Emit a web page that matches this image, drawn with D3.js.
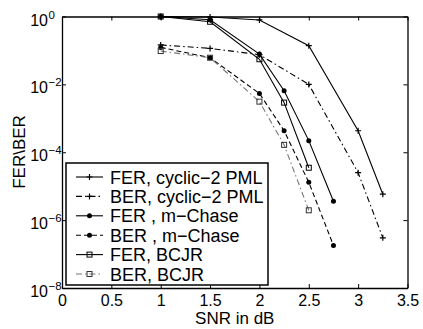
<!DOCTYPE html>
<html><head><meta charset="utf-8">
<script src="https://cdn.jsdelivr.net/npm/d3@7"></script>
<style>
body{margin:0;background:#fff;}
svg{display:block;font-family:"Liberation Sans",Arial,sans-serif;}
</style></head><body>
<svg id="c" width="423" height="329"></svg>
<script>
const ferCyclicX = [1, 1.5, 2, 2.5, 3, 3.25];
const ferCyclic  = [1.0, 0.97, 0.79, 0.138, 4.3e-4, 5.8e-6];
const berCyclicX = [1, 1.5, 2, 2.5, 3, 3.25];
const berCyclic  = [0.145, 0.115, 0.075, 0.0100, 2.5e-5, 3.0e-7];
const ferChaseX = [1, 1.5, 2, 2.25, 2.5, 2.75];
const ferChase  = [1.0, 0.80, 0.078, 6.5e-3, 2.2e-4, 3.6e-6];
const berChaseX = [1, 1.5, 2, 2.25, 2.5, 2.75];
const berChase  = [0.123, 0.061, 5.4e-3, 4.3e-4, 1.3e-5, 1.8e-7];
const ferBcjrX = [1, 1.5, 2, 2.25, 2.5];
const ferBcjr  = [1.0, 0.70, 0.055, 2.9e-3, 3.5e-5];
const berBcjrX = [1, 1.5, 2, 2.25, 2.5];
const berBcjr  = [0.096, 0.061, 3.1e-3, 1.65e-4, 1.95e-6];
const xTicks = [0, 0.5, 1, 1.5, 2, 2.5, 3, 3.5];
const yTickExps = [0, -2, -4, -6, -8];
const legendLabels = ["FER, cyclic\u22122 PML","BER, cyclic\u22122 PML","FER , m\u2212Chase","BER , m\u2212Chase","FER, BCJR","BER, BCJR"];

const series = [
  {x: ferCyclicX, y: ferCyclic, dash: null, color: "#000", mk: "plus"},
  {x: berCyclicX, y: berCyclic, dash: "6,3,1.5,3", color: "#000", mk: "plus"},
  {x: ferChaseX, y: ferChase, dash: null, color: "#000", mk: "dot"},
  {x: berChaseX, y: berChase, dash: "5,3", color: "#000", mk: "dot"},
  {x: ferBcjrX, y: ferBcjr, dash: null, color: "#000", mk: "sq"},
  {x: berBcjrX, y: berBcjr, dash: "6,3,1.5,3", color: "#777", mk: "sq"}
];

const L = 62, T = 16.5, W = 345.5, H = 271.5;
const FONT = "Liberation Sans, Arial, sans-serif";
const svg = d3.select("#c");
const x = d3.scaleLinear().domain([0, 3.5]).range([L, L + W]);
const y = d3.scaleLog().domain([1e-8, 1]).range([T + H, T]);

const fs = 16;
const gx = svg.append("g").attr("transform", `translate(0,${T + H})`)
  .call(d3.axisBottom(x).tickValues(xTicks).tickSizeInner(-4).tickSizeOuter(0).tickPadding(7).tickFormat(d3.format("")));
const gxt = svg.append("g").attr("transform", `translate(0,${T})`)
  .call(d3.axisTop(x).tickValues(xTicks).tickSizeInner(-4).tickSizeOuter(0).tickFormat(""));
const yVals = yTickExps.map(e => Math.pow(10, e));
const gy = svg.append("g").attr("transform", `translate(${L},0)`)
  .call(d3.axisLeft(y).tickValues(yVals).tickSizeInner(-4).tickSizeOuter(0).tickFormat(""));
const gyr = svg.append("g").attr("transform", `translate(${L + W},0)`)
  .call(d3.axisRight(y).tickValues(yVals).tickSizeInner(-4).tickSizeOuter(0).tickFormat(""));
[gx, gxt, gy, gyr].forEach(g => {
  g.selectAll("path").attr("stroke", "#000").attr("stroke-width", 1.3);
  g.selectAll("line").attr("stroke", "#000").attr("stroke-width", 1);
});
gx.selectAll("text").attr("font-size", fs).attr("fill", "#000").attr("font-family", FONT);

gy.selectAll(".tick").each(function(d) {
  const e = Math.round(Math.log10(d));
  const g = d3.select(this);
  g.append("text").attr("fill", "#000").attr("font-family", FONT)
    .attr("x", -14).attr("y", 8.5).attr("text-anchor", "end").attr("font-size", fs).text("10");
  g.append("text").attr("fill", "#000").attr("font-family", FONT)
    .attr("x", -13.5).attr("y", 1.5).attr("text-anchor", "start").attr("font-size", 11.5)
    .text(e === 0 ? "0" : "\u2212" + Math.abs(e));
});

const line = d3.line().x(d => x(d[0])).y(d => y(d[1]));
series.forEach(s => {
  const pts = s.x.map((v, i) => [v, s.y[i]]);
  svg.append("path").datum(pts).attr("d", line).attr("fill", "none")
    .attr("stroke", s.color).attr("stroke-width", 1.1)
    .attr("stroke-dasharray", s.dash);
});

function marker(g, cx, cy, mk, color) {
  if (mk === "plus") {
    g.append("path").attr("d", `M${cx-3},${cy}H${cx+3}M${cx},${cy-3}V${cy+3}`)
      .attr("stroke", color).attr("stroke-width", 1.2);
  } else if (mk === "dot") {
    g.append("circle").attr("cx", cx).attr("cy", cy).attr("r", 2.5).attr("fill", color);
  } else {
    g.append("rect").attr("x", cx - 2.5).attr("y", cy - 2.5).attr("width", 5).attr("height", 5)
      .attr("fill", "none").attr("stroke", color).attr("stroke-width", 1);
  }
}
const mg = svg.append("g");
series.forEach(s => {
  s.x.forEach((v, i) => marker(mg, x(v), y(s.y[i]), s.mk, s.color === "#777" ? "#333" : "#000"));
});

const lg = svg.append("g");
lg.append("rect").attr("x", 66).attr("y", 163).attr("width", 202).attr("height", 122)
  .attr("fill", "#fff").attr("stroke", "#000").attr("stroke-width", 1.5);
legendLabels.forEach((lab, i) => {
  const cy = 177 + i * 19.4;
  const s = series[i];
  lg.append("line").attr("x1", 76).attr("x2", 103).attr("y1", cy).attr("y2", cy)
    .attr("stroke", s.color).attr("stroke-width", 1.1).attr("stroke-dasharray", s.dash);
  marker(lg, 89.5, cy, s.mk, s.color === "#777" ? "#333" : "#000");
  lg.append("text").attr("x", 110).attr("y", cy + 6.5).attr("font-size", 18).attr("fill", "#000").text(lab);
});

svg.append("text").attr("x", x(1.75)).attr("y", 324).attr("text-anchor", "middle")
  .attr("font-size", 17).attr("fill", "#000").text("SNR in dB");
svg.append("text").attr("transform", `translate(25,152) rotate(-90)`).attr("text-anchor", "middle")
  .attr("font-size", 17).attr("fill", "#000").text("FER\\BER");
</script></body></html>
